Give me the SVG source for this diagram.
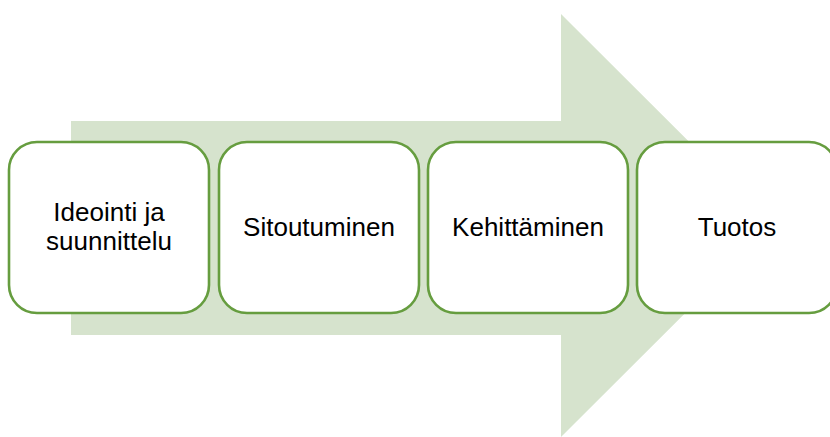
<svg xmlns="http://www.w3.org/2000/svg" width="830" height="437" viewBox="0 0 830 437">
<style>
.box{fill:#ffffff;stroke:#669d3f;stroke-width:2.6}
.lbl{font-family:"Liberation Sans",Arial,sans-serif;font-size:26px;fill:#000000;text-anchor:middle}
</style>
<g id="arrow">
<polygon points="71,121 561,121 561,14 773,225.5 561,437 561,335 71,335" fill="#d6e3cd"/>
</g>
<g id="connectors"></g>
<g id="node1">
<rect class="box" x="9" y="142" width="200" height="171" rx="28" ry="28"/>
<text class="lbl" x="109" y="221">Ideointi ja</text>
<text class="lbl" x="109" y="250">suunnittelu</text>
</g>
<g id="node2">
<rect class="box" x="219" y="142" width="200" height="171" rx="28" ry="28"/>
<text class="lbl" x="319" y="236">Sitoutuminen</text>
</g>
<g id="node3">
<rect class="box" x="428" y="142" width="200" height="171" rx="28" ry="28"/>
<text class="lbl" x="528" y="236">Kehittäminen</text>
</g>
<g id="node4">
<rect class="box" x="637" y="142" width="200" height="171" rx="28" ry="28"/>
<text class="lbl" x="737" y="236">Tuotos</text>
</g>
</svg>
